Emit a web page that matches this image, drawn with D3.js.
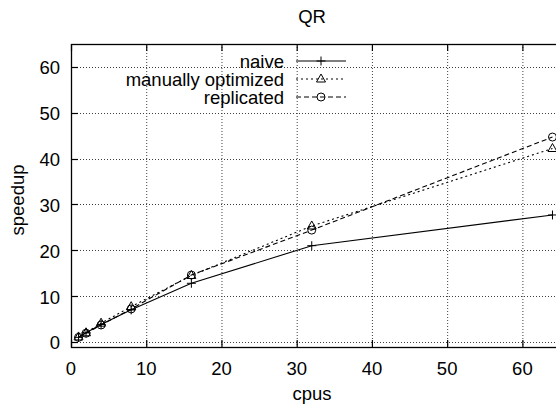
<!DOCTYPE html>
<html>
<head>
<meta charset="utf-8">
<script src="https://cdn.jsdelivr.net/npm/d3@7"></script>
<style>
  body { margin: 0; background: #fff; }
  text { font-family: "Liberation Sans", Arial, sans-serif; fill: #000; font-size: 18.5px; }
</style>
</head>
<body>
<svg id="chart" width="556" height="408"></svg>
<script>
// data
const cpus = [1, 2, 4, 8, 16, 32, 64];
const naive = [1, 2, 3.8, 7, 12.8, 21, 27.7];
const optimized = [1.1, 2, 4.1, 7.7, 14.5, 25.3, 42.2];
const replicated = [1, 1.9, 3.7, 7.2, 14.6, 24.4, 44.7];
const xTicks = [0, 10, 20, 30, 40, 50, 60];
const yTicks = [0, 10, 20, 30, 40, 50, 60];
const seriesNames = ['naive', 'manually optimized', 'replicated'];

const svg = d3.select('#chart');
const pLeft = 71, pRight = 560, pTop = 44, pBottom = 347;

const x = d3.scaleLinear().domain([0, 65]).range([pLeft, pRight]);
const y = d3.scaleLinear().domain([-1.1, 65]).range([pBottom, pTop]);

// grid
let grid = svg.append('g').attr('stroke', '#000').attr('stroke-width', 1)
  .attr('stroke-dasharray', '1,2').attr('opacity', 0.75);
xTicks.forEach(t => {
  if (t === 0) return;
  grid.append('line').attr('x1', x(t) + 0.5).attr('x2', x(t) + 0.5)
    .attr('y1', pTop).attr('y2', pBottom);
});
yTicks.forEach(t => {
  grid.append('line').attr('x1', pLeft).attr('x2', pRight)
    .attr('y1', Math.round(y(t)) + 0.5).attr('y2', Math.round(y(t)) + 0.5);
});

// frame
svg.append('rect').attr('x', pLeft + 0.5).attr('y', pTop + 0.5)
  .attr('width', pRight - pLeft).attr('height', pBottom - pTop)
  .attr('fill', 'none').attr('stroke', '#000').attr('stroke-width', 1.3);

// ticks (inward) + labels
let ticks = svg.append('g').attr('stroke', '#000').attr('stroke-width', 1.2);
xTicks.forEach(t => {
  let px = x(t) + 0.5;
  ticks.append('line').attr('x1', px).attr('x2', px).attr('y1', pBottom).attr('y2', pBottom - 7);
  ticks.append('line').attr('x1', px).attr('x2', px).attr('y1', pTop).attr('y2', pTop + 7);
  svg.append('text').attr('x', x(t)).attr('y', 375)
    .attr('text-anchor', 'middle').text(t);
});
yTicks.forEach(t => {
  let py = Math.round(y(t)) + 0.5;
  ticks.append('line').attr('x1', pLeft).attr('x2', pLeft + 7).attr('y1', py).attr('y2', py);
  svg.append('text').attr('x', pLeft - 11).attr('y', y(t) + 7.5)
    .attr('text-anchor', 'end').text(t);
});

// titles
svg.append('text').attr('x', 312).attr('y', 23).attr('text-anchor', 'middle').text('QR');
svg.append('text').attr('x', 312).attr('y', 400).attr('text-anchor', 'middle').text('cpus');
svg.append('text').attr('transform', 'translate(24,200) rotate(-90)')
  .attr('text-anchor', 'middle').text('speedup');

const series = [
  { name: seriesNames[0], values: naive, dash: null, marker: 'plus' },
  { name: seriesNames[1], values: optimized, dash: '2,3', marker: 'tri' },
  { name: seriesNames[2], values: replicated, dash: '5,3', marker: 'circle' },
];

function drawMarker(g, kind, px, py) {
  if (kind === 'plus') {
    g.append('path').attr('d', `M${px - 4.5},${py}H${px + 4.5}M${px},${py - 4.5}V${py + 4.5}`)
      .attr('stroke', '#000').attr('stroke-width', 1);
  } else if (kind === 'tri') {
    g.append('path').attr('d', `M${px},${py - 5}L${px + 4.5},${py + 3}L${px - 4.5},${py + 3}Z`)
      .attr('fill', 'none').attr('stroke', '#000').attr('stroke-width', 1);
  } else {
    g.append('circle').attr('cx', px).attr('cy', py).attr('r', 4)
      .attr('fill', 'none').attr('stroke', '#000').attr('stroke-width', 1);
  }
}

const line = d3.line().x(d => x(d[0])).y(d => y(d[1]));
let plot = svg.append('g');
series.forEach(s => {
  let pts = cpus.map((c, i) => [c, s.values[i]]);
  plot.append('path').attr('d', line(pts)).attr('fill', 'none')
    .attr('stroke', '#000').attr('stroke-width', 1.1)
    .attr('stroke-dasharray', s.dash);
  pts.forEach(p => drawMarker(plot, s.marker, x(p[0]), y(p[1])));
});

// legend
let lg = svg.append('g');
series.forEach((s, i) => {
  let ly = 61 + i * 18;
  lg.append('text').attr('x', 284).attr('y', ly + 6.5).attr('text-anchor', 'end').text(s.name);
  lg.append('line').attr('x1', 296).attr('x2', 346).attr('y1', ly).attr('y2', ly)
    .attr('stroke', '#000').attr('stroke-width', 1.1).attr('stroke-dasharray', s.dash);
  drawMarker(lg, s.marker, 321, ly);
});
</script>
</body>
</html>
